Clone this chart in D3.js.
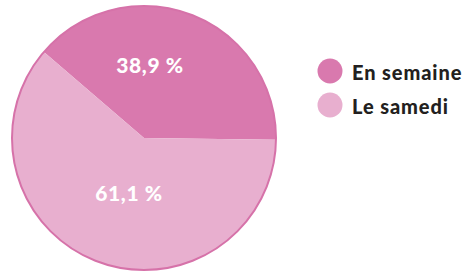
<!DOCTYPE html>
<html>
<head>
<meta charset="utf-8">
<script src="https://cdn.jsdelivr.net/npm/d3@7"></script>
<style>
  body { margin: 0; background: #fff; }
  svg { display: block; }
</style>
</head>
<body>
<div id="chart"></div>
<script>
// données
const categories = ["En semaine", "Le samedi"];
const values = [38.9, 61.1];
const labels = ["38,9 %", "61,1 %"];
const colors = ["#d979ae", "#e8afcf"];

const width = 465, height = 271;
const cx = 144, cy = 138, radius = 132;

const svg = d3.select("#chart").append("svg")
    .attr("width", width)
    .attr("height", height);

const g = svg.append("g").attr("transform", `translate(${cx},${cy})`);

// la part "en semaine" commence en haut à gauche
const pie = d3.pie()
    .sort(null)
    .startAngle(-49.3 * Math.PI / 180)
    .endAngle((360 - 49.3) * Math.PI / 180);

const arcs = pie(values);
const arc = d3.arc().innerRadius(0).outerRadius(radius);

g.selectAll("path.slice")
    .data(arcs)
    .enter()
    .append("path")
    .attr("class", "slice")
    .attr("d", arc)
    .attr("fill", (d, i) => colors[i]);

// contour
g.append("circle")
    .attr("r", radius)
    .attr("fill", "none")
    .attr("stroke", "#d672a9")
    .attr("stroke-width", 2);

// étiquettes
const labelPos = [[6, -74], [-15, 54]];
g.selectAll("text.pct")
    .data(arcs)
    .enter()
    .append("text")
    .attr("class", "pct")
    .attr("x", (d, i) => labelPos[i][0])
    .attr("y", (d, i) => labelPos[i][1])
    .attr("text-anchor", "middle")
    .attr("dominant-baseline", "central")
    .attr("fill", "#fff")
    .attr("font-family", "Lato, sans-serif")
    .attr("font-weight", 900)
    .attr("font-size", 21)
    .attr("letter-spacing", 0.6)
    .text((d, i) => labels[i]);

// légende
const legend = svg.append("g").attr("transform", "translate(330, 71)");
const items = legend.selectAll("g")
    .data(categories)
    .enter()
    .append("g")
    .attr("transform", (d, i) => `translate(0, ${i * 34})`);

items.append("circle")
    .attr("r", 12.5)
    .attr("fill", (d, i) => colors[i]);

items.append("text")
    .attr("x", 22)
    .attr("y", 1)
    .attr("dominant-baseline", "central")
    .attr("fill", "#231f20")
    .attr("font-family", "Lato, sans-serif")
    .attr("font-weight", 900)
    .attr("font-size", 20)
    .attr("letter-spacing", 0.9)
    .text(d => d);
</script>
</body>
</html>
